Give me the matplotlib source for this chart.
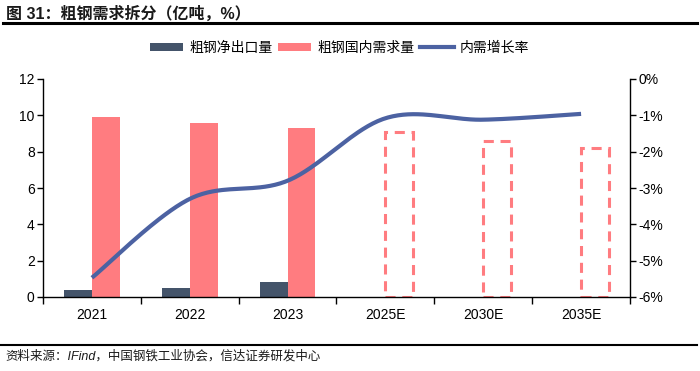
import numpy as np
import matplotlib
matplotlib.use("Agg")
import matplotlib.pyplot as plt
from matplotlib.lines import Line2D
from matplotlib.patches import Patch
from matplotlib.ticker import FuncFormatter, FixedLocator

plt.rcParams['font.family'] = ['Liberation Sans', 'Noto Sans CJK SC', 'DejaVu Sans']

# ---- data ----
categories = ["2021", "2022", "2023", "2025E", "2030E", "2035E"]
net_export = [0.37, 0.52, 0.83, None, None, None]        # 粗钢净出口量 (亿吨)
domestic_actual = [9.92, 9.58, 9.3, None, None, None]    # 粗钢国内需求量 (亿吨)
domestic_forecast = [None, None, None, 9.1, 8.6, 8.2]    # 粗钢国内需求量 预测 (亿吨)
growth = [-5.47, -3.3, -2.8, -1.08, -1.12, -0.96]        # 内需增长率 (%)

left_ticks = [0, 2, 4, 6, 8, 10, 12]
right_ticks = [-6, -5, -4, -3, -2, -1, 0]

c_dark = "#44546A"
c_pink = "#FF7C80"
c_line = "#4C62A2"

fig = plt.figure(figsize=(7.0, 3.71), dpi=100)
ax = fig.add_axes([43/700, 1-297/371, 587/700, 218/371])
ax2 = ax.twinx()

x = np.arange(len(categories))
w = 0.285

for i in range(len(categories)):
    if net_export[i] is not None:
        ax.bar(x[i] - w/2, net_export[i], width=w, color=c_dark, zorder=2)
    if domestic_actual[i] is not None:
        ax.bar(x[i] + w/2, domestic_actual[i], width=w, color=c_pink, zorder=2)
    if domestic_forecast[i] is not None:
        ax.bar(x[i] + w/2, domestic_forecast[i], width=w, fill=False,
               edgecolor=c_pink, linewidth=2.2, linestyle=(0, (3.3, 2.2)), zorder=2)

# smoothed line (Excel-style Catmull-Rom/Bezier through the data points)
pts = np.column_stack([x, growth]).astype(float)
n = len(pts)
xs, ys = [], []
t = np.linspace(0, 1, 40)
for i in range(n - 1):
    p0 = pts[i - 1] if i > 0 else pts[i]
    p1 = pts[i]
    p2 = pts[i + 1]
    p3 = pts[i + 2] if i + 2 < n else pts[i + 1]
    c1 = p1 + (p2 - p0) / 6
    c2 = p2 - (p3 - p1) / 6
    b = ((1 - t)**3)[:, None]*p1 + (3*(1 - t)**2*t)[:, None]*c1 + (3*(1 - t)*t**2)[:, None]*c2 + (t**3)[:, None]*p2
    xs.extend(b[:, 0]); ys.extend(b[:, 1])
ax2.plot(xs, ys, color=c_line, linewidth=3, solid_capstyle='butt', zorder=3)

ax.set_xlim(-0.5, len(categories) - 0.5)
ax.set_ylim(0, 12)
ax2.set_ylim(-6, 0)
ax.set_yticks(left_ticks)
ax.set_yticklabels([str(v) for v in left_ticks], fontsize=10)
ax2.yaxis.set_major_locator(FixedLocator(right_ticks))
ax2.yaxis.set_major_formatter(FuncFormatter(lambda v, p: f"{int(round(v))}%"))
ax2.tick_params(axis='y', labelsize=10, length=4, width=1, direction='out', pad=2)
ax.tick_params(axis='y', length=4, width=1, direction='out', pad=2, labelsize=10)

ax.set_xticks(x)
ax.set_xticklabels(categories, fontsize=10)
ax.set_xticks(np.arange(-0.5, len(categories), 1.0), minor=True)
ax.tick_params(axis='x', which='major', length=0, pad=8)
ax.tick_params(axis='x', which='minor', length=5, width=1, direction='out')

for a in (ax, ax2):
    a.spines['top'].set_visible(False)
    for s in ('left', 'right', 'bottom'):
        a.spines[s].set_color('black')
        a.spines[s].set_linewidth(1)
ax.spines['right'].set_visible(False)
ax2.spines['left'].set_visible(False)
ax2.spines['bottom'].set_visible(False)

handles = [Patch(facecolor=c_dark, edgecolor='none'),
           Patch(facecolor=c_pink, edgecolor='none'),
           Line2D([0], [0], color=c_line, linewidth=3)]
labels = ["粗钢净出口量", "粗钢国内需求量", "内需增长率"]
fig.legend(handles, labels, loc='center', bbox_to_anchor=(0.485, 1-48/371), ncol=3,
           frameon=False, fontsize=10, handlelength=2.4, handleheight=0.55,
           handletextpad=0.45, columnspacing=0.4, borderaxespad=0)

# title and source
fig.text(0.008, 1-14/371, "图 31：粗钢需求拆分（亿吨，%）", fontsize=11.5, fontweight='bold',
         color='#1a1a1a', ha='left', va='center')
fig.add_artist(Line2D([0.004, 0.996], [1-23/371, 1-23/371], color='black', linewidth=2.2,
                      transform=fig.transFigure))
fig.add_artist(Line2D([0.0, 0.996], [1-345/371, 1-345/371], color='black', linewidth=1.5,
                      transform=fig.transFigure))
fig.text(0.008, 1-356/371, "资料来源：IFind，中国钢铁工业协会，信达证券研发中心", fontsize=9,
         style='italic', color='#1a1a1a', ha='left', va='center')

fig.savefig("out.png", dpi=100)
